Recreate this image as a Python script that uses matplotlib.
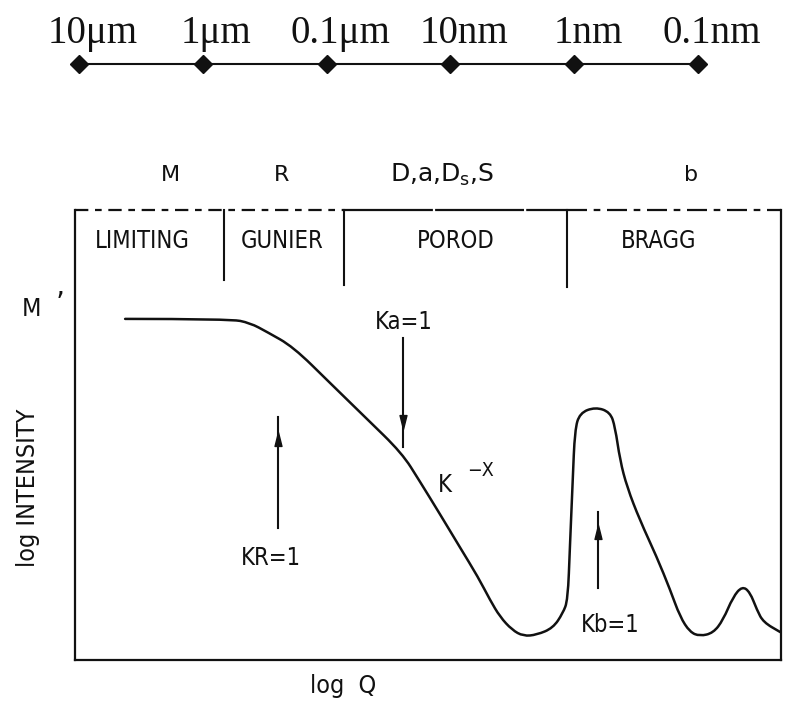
import matplotlib
matplotlib.use("Agg")
import numpy as np
import matplotlib.pyplot as plt
from matplotlib.path import Path
from matplotlib.patches import PathPatch

plt.rcParams["mathtext.default"] = "regular"
plt.rcParams["font.family"] = ["DejaVu Sans"]

# Length scale shown along the top (real-space size probed)
scale_labels = ["10μm", "1μm", "0.1μm", "10nm", "1nm", "0.1nm"]
scale_lengths_nm = [1e4, 1e3, 1e2, 10.0, 1.0, 0.1]

# Schematic scattering curve: log Q against log intensity (arbitrary units)
log_q = [0.71, 2.20, 2.48, 2.72, 3.09, 3.61, 4.12, 4.63, 4.88, 5.17,
         5.45, 5.71, 5.88, 6.02, 6.19, 6.35, 6.54, 6.77, 6.91,
         6.98, 7.01, 7.05, 7.08, 7.15, 7.37, 7.58, 7.65, 7.72, 7.82,
         8.00, 8.24, 8.43, 8.57, 8.71, 8.85, 9.04, 9.18, 9.32, 9.45,
         9.56, 9.66, 9.75, 9.99]
log_i = [7.58, 7.58, 7.49, 7.29, 6.96, 6.16, 5.38, 4.60, 3.98, 3.24,
         2.51, 1.84, 1.33, 0.96, 0.67, 0.53, 0.56, 0.71, 1.04,
         1.33, 2.51, 4.00, 5.11, 5.49, 5.62, 5.51, 5.18, 4.44, 3.84,
         3.11, 2.29, 1.56, 0.96, 0.62, 0.53, 0.60, 0.89, 1.40, 1.64,
         1.51, 1.11, 0.84, 0.62]

# Scattering regimes, their boundaries in log Q and the parameter each one probes
regimes = ["LIMITING", "GUNIER", "POROD", "BRAGG"]
regime_bounds = [2.11, 3.81, 6.97]
regime_params = ["M", "R", "D,a,D$_{s}$,S", "b"]

# Crossover markers: (label, log Q, direction)
crossovers = [("KR=1", 2.875, "up"), ("Ka=1", 4.646, "down"), ("Kb=1", 7.408, "up")]

W, H = 786, 701
fig = plt.figure(figsize=(W / 100, H / 100), dpi=100)

INK = "#111111"
sans = dict(family="DejaVu Sans", fontstretch="condensed", color=INK)

# ---- top length scale ----
sax = fig.add_axes([0, 1 - 100 / H, 1, 100 / H])
x0_px, dx_px = 79, 123.8
sax.set_xlim(-4 - x0_px / dx_px, 1 + (W - 698) / dx_px)
sax.set_ylim(0, 1)
sax.axis("off")
sx = -np.log10(scale_lengths_nm)
sax.plot(sx, [0.36] * len(sx), color=INK, lw=1.5, marker="D", ms=9,
         mfc=INK, mec=INK)
for x, lab in zip(sx, scale_labels):
    sax.text(x + 0.11, 0.57, lab, ha="center", va="baseline",
             family="Liberation Serif", fontsize=28, color=INK)

# ---- main schematic ----
box_l, box_r, box_t, box_b = 75, 781, 210, 660
ax = fig.add_axes([box_l / W, 1 - box_b / H, (box_r - box_l) / W,
                   (box_b - box_t) / H])
ax.set_xlim(0, 10)
ax.set_ylim(0, 10)
ax.set_xticks([])
ax.set_yticks([])
for side in ["left", "bottom", "right"]:
    ax.spines[side].set_linewidth(1.6)
    ax.spines[side].set_color(INK)
ax.spines["top"].set_visible(False)

# top edge of the regime box: broken rule, near solid over the Porod part
top_edge = [((0, regime_bounds[1]), (0, (6, 3, 3, 3))),
            ((regime_bounds[1], regime_bounds[2]), (0, (40, 1))),
            ((regime_bounds[2], 10), (0, (9, 3, 3, 3)))]
for (xa, xb), style in top_edge:
    ax.plot([xa, xb], [10, 10], color=INK, lw=1.6, linestyle=style,
            clip_on=False)

# curve drawn as a smooth quadratic path through the sampled points
pts = np.column_stack([log_q, log_i])
verts = [pts[0]]
codes = [Path.MOVETO]
for i in range(1, len(pts) - 1):
    verts += [pts[i], (pts[i] + pts[i + 1]) / 2]
    codes += [Path.CURVE3, Path.CURVE3]
verts.append(pts[-1])
codes.append(Path.LINETO)
ax.add_patch(PathPatch(Path(verts, codes), fill=False, edgecolor=INK,
                       lw=1.8, joinstyle="round", capstyle="round"))

# regime dividers and names
divider_bottoms = [8.44, 8.33, 8.29]
for xb, yb in zip(regime_bounds, divider_bottoms):
    ax.plot([xb, xb], [10, yb], color=INK, lw=1.5, clip_on=False)
regime_centres = [0.95, 2.93, 5.40, 8.27]
for xc, name in zip(regime_centres, regimes):
    ax.text(xc, 9.31, name, ha="center", va="center", fontsize=17, **sans)
param_centres = [1.35, 2.92, 5.20, 8.73]
param_sizes = [16, 16, 18, 16]
for xc, p, fs in zip(param_centres, regime_params, param_sizes):
    ax.text(xc, 10.78, p, ha="center", va="center", fontsize=fs,
            family="DejaVu Sans", color=INK)

# crossover arrows
up_head = Path([(0, 1), (-0.5, -1), (0.5, -1), (0, 1)],
               [Path.MOVETO, Path.LINETO, Path.LINETO, Path.CLOSEPOLY])
down_head = Path([(0, -1), (-0.5, 1), (0.5, 1), (0, -1)],
                 [Path.MOVETO, Path.LINETO, Path.LINETO, Path.CLOSEPOLY])
shafts = {"KR=1": (2.93, 5.40, 4.91), "Ka=1": (4.73, 7.16, 5.29),
          "Kb=1": (1.60, 3.29, 2.84)}
label_pos = {"KR=1": (2.77, 2.27), "Ka=1": (4.66, 7.51), "Kb=1": (7.58, 0.78)}
for lab, xq, direction in crossovers:
    y0, y1, yh = shafts[lab]
    ax.plot([xq, xq], [y0, y1], color=INK, lw=1.5)
    ax.plot([xq], [yh], marker=up_head if direction == "up" else down_head,
            ms=10, color=INK, mec=INK, lw=0)
    lx, ly = label_pos[lab]
    ax.text(lx, ly, lab, ha="center", va="center", fontsize=17, **sans)

# power-law label
ax.text(5.24, 3.89, "K", ha="center", va="center", fontsize=17, **sans)
ax.text(5.75, 4.22, "−X", ha="center", va="center", fontsize=14, **sans)

# axis annotations
ax.text(-0.61, 7.80, "M", ha="center", va="center", fontsize=18, **sans)
ax.text(-0.21, 7.90, "’", ha="center", va="center", fontsize=22, **sans)
ax.text(-0.67, 3.82, "log INTENSITY", ha="center", va="center",
        rotation=90, fontsize=18, **sans)
ax.text(3.80, -0.58, "log  Q", ha="center", va="center", fontsize=18, **sans)

fig.savefig("out.png", dpi=100)
